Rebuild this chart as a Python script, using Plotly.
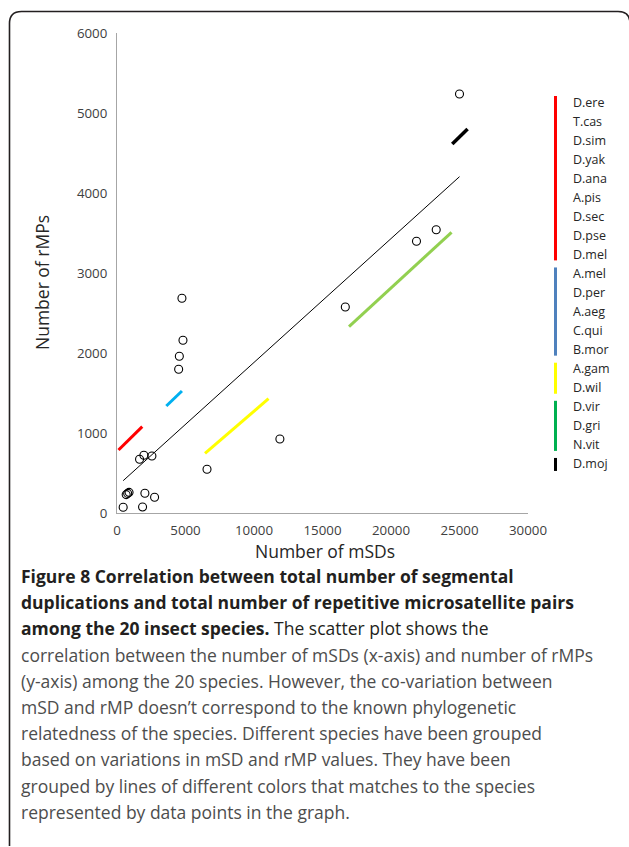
import plotly.graph_objects as go

# ---- data ----
msd = [4740, 4815, 4550, 4500, 11890, 6570, 1646, 1963, 2548, 670, 780, 880,
       2036, 2743, 451, 1866, 25000, 23300, 21860, 16665]
rmp = [2684, 2159, 1959, 1796, 925, 546, 671, 721, 712, 230, 245, 258,
       246, 196, 71, 75, 5238, 3541, 3396, 2575]

trend_x = [451, 25000]
trend_y = [404, 4204]

group_names = ["red", "cyan", "yellow", "lightgreen", "black"]
group_x = [[110, 1843], [3600, 4740], [6423, 11060], [16935, 24420], [24470, 25590]]
group_y = [[787, 1079], [1337, 1525], [746, 1429], [2329, 3509], [4612, 4800]]
group_colors = ["#FF0000", "#00B0F0", "#FFFF00", "#92D050", "#000000"]
group_widths = [3, 3, 3, 3, 3.5]

legend_labels = ["D.ere", "T.cas", "D.sim", "D.yak", "D.ana", "A.pis", "D.sec", "D.pse", "D.mel",
                 "A.mel", "D.per", "A.aeg", "C.qui", "B.mor",
                 "A.gam", "D.wil",
                 "D.vir", "D.gri", "N.vit",
                 "D.moj"]
legend_group_sizes = [9, 5, 2, 3, 1]
legend_colors = ["#FF0000", "#4F81BD", "#FFFF00", "#00B050", "#000000"]

x_ticks = [0, 5000, 10000, 15000, 20000, 25000, 30000]
y_ticks = [0, 1000, 2000, 3000, 4000, 5000, 6000]

caption_lines = [
    "<b>Figure 8 Correlation between total number of segmental</b>",
    "<b>duplications and total number of repetitive microsatellite pairs</b>",
    "<b>among the 20 insect species.</b> The scatter plot shows the",
    "correlation between the number of mSDs (x-axis) and number of rMPs",
    "(y-axis) among the 20 species. However, the co-variation between",
    "mSD and rMP doesn\u2019t correspond to the known phylogenetic",
    "relatedness of the species. Different species have been grouped",
    "based on variations in mSD and rMP values. They have been",
    "grouped by lines of different colors that matches to the species",
    "represented by data points in the graph.",
]

# ---- layout geometry (pixels) ----
W, H = 629, 847
L, R, T, B = 117, 101, 33, 334
PW = W - L - R
PH = H - T - B


def px(xp):
    return (xp - L) / PW


def py(yp):
    return (H - B - yp) / PH


fig = go.Figure()

for gx, gy, c, w in zip(group_x, group_y, group_colors, group_widths):
    fig.add_trace(go.Scatter(x=gx, y=gy, mode="lines", line=dict(color=c, width=w),
                             hoverinfo="skip", showlegend=False))

fig.add_trace(go.Scatter(x=trend_x, y=trend_y, mode="lines",
                         line=dict(color="#000000", width=1), showlegend=False))

fig.add_trace(go.Scatter(x=msd, y=rmp, mode="markers",
                         marker=dict(symbol="circle-open", size=8,
                                     color="#000000", line=dict(width=1.1)),
                         showlegend=False))

shapes = []
annotations = []

# legend (right side): coloured bars and labels
label_y0 = 102
label_dy = 19.05
idx = 0
for n, c in zip(legend_group_sizes, legend_colors):
    top = label_y0 + idx * label_dy - 6
    bot = label_y0 + (idx + n - 1) * label_dy + 6
    if n == 1:
        top, bot = label_y0 + idx * label_dy - 6, label_y0 + idx * label_dy + 7
    shapes.append(dict(type="line", xref="paper", yref="paper",
                       x0=px(555.5), x1=px(555.5), y0=py(top), y1=py(bot),
                       line=dict(color=c, width=3)))
    idx += n

for i, lab in enumerate(legend_labels):
    annotations.append(dict(text=lab, xref="paper", yref="paper",
                            x=px(571), y=py(label_y0 + i * label_dy),
                            xanchor="left", yanchor="middle", showarrow=False,
                            font=dict(family="Open Sans", size=12.5, color="#262626")))

# caption
cap_y0 = 576
cap_dy = 26.2
for i, line in enumerate(caption_lines):
    annotations.append(dict(text=line, xref="paper", yref="paper",
                            x=px(19), y=py(cap_y0 + i * cap_dy),
                            xanchor="left", yanchor="middle", showarrow=False,
                            font=dict(family="Open Sans", size=17.5,
                                      color="#231F20" if i < 3 else "#4D4D4D")))

# axis titles
annotations.append(dict(text="Number of mSDs", xref="paper", yref="paper",
                        x=px(325), y=py(551), xanchor="center", yanchor="middle",
                        showarrow=False, font=dict(family="Open Sans", size=17.5, color="#262626")))
annotations.append(dict(text="Number of rMPs", xref="paper", yref="paper",
                        x=px(42), y=py(283), xanchor="center", yanchor="middle",
                        textangle=-90, showarrow=False,
                        font=dict(family="Open Sans", size=17.5, color="#262626")))

# frame (rounded border)
x0b, y0b, x1b, y1b, r = 9.5, 11.5, 630, 846, 12
path = (f"M {px(x0b)},{py(y1b)} L {px(x0b)},{py(y0b + r)} "
        f"Q {px(x0b)},{py(y0b)} {px(x0b + r)},{py(y0b)} "
        f"L {px(x1b - r)},{py(y0b)} Q {px(x1b)},{py(y0b)} {px(x1b)},{py(y0b + r)}")
shapes.append(dict(type="path", xref="paper", yref="paper", path=path,
                   line=dict(color="#231F20", width=1.6)))

fig.update_layout(
    width=W, height=H,
    margin=dict(l=L, r=R, t=T, b=B, pad=0),
    paper_bgcolor="white", plot_bgcolor="white",
    shapes=shapes, annotations=annotations,
    xaxis=dict(range=[0, 30000], tickvals=x_ticks, ticktext=[str(v) for v in x_ticks],
               showgrid=False, zeroline=False, showline=True, linecolor="#A6A6A6",
               linewidth=1, ticks="", tickfont=dict(family="Open Sans", size=13.3, color="#404040"),
               ticklabelstandoff=5),
    yaxis=dict(range=[0, 6000], tickvals=y_ticks, ticktext=[str(v) for v in y_ticks],
               showgrid=False, zeroline=False, showline=True, linecolor="#A6A6A6",
               linewidth=1, ticks="", tickfont=dict(family="Open Sans", size=13.3, color="#404040"),
               ticklabelstandoff=6),
    showlegend=False,
)

fig.write_html("out.html")
